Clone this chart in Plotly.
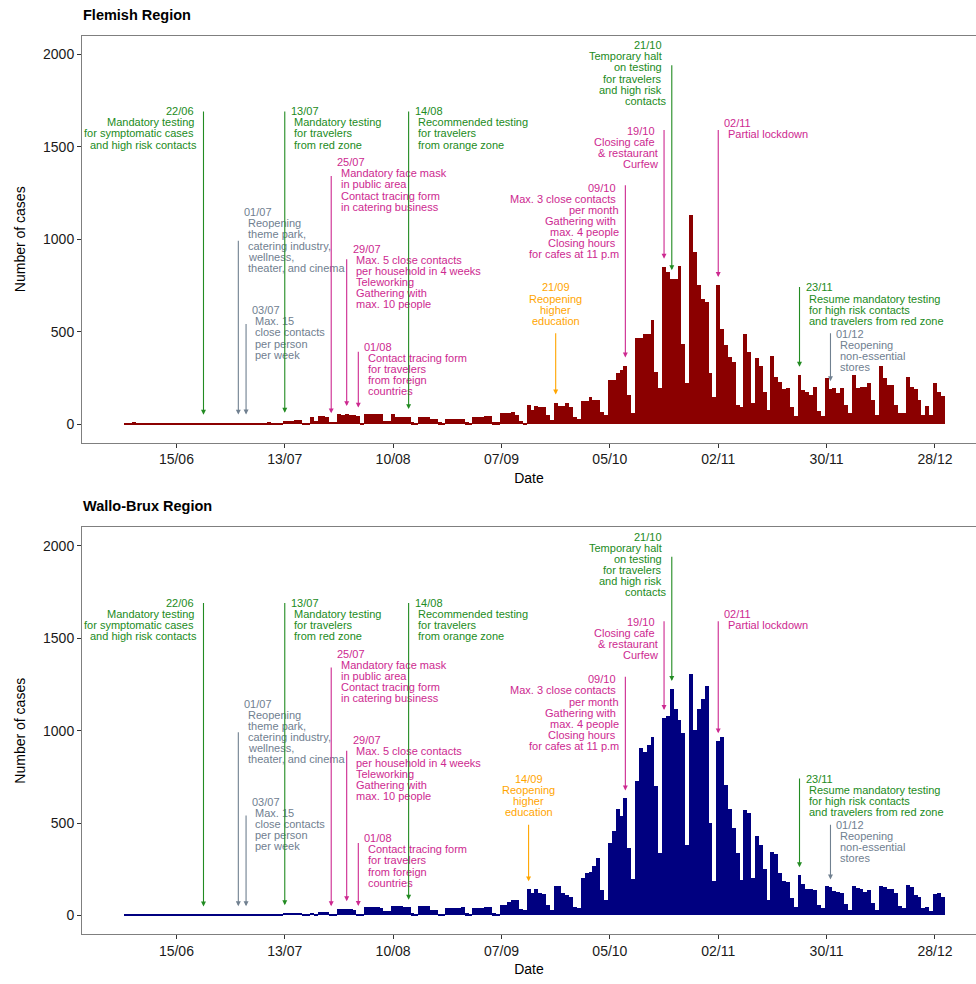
import datetime as dt
import plotly.graph_objects as go

# ---------------- data ----------------
start = dt.date(2020, 6, 2)
flemish_jun = [6, 8, 9, 7, 3, 2, 5, 6, 5, 4, 3, 2, 2, 5, 6, 5, 7, 6, 2, 3, 5, 6, 6, 5, 5, 2, 2, 5, 7]
flemish_jul = [6, 8, 7, 3, 3, 6, 7, 8, 9, 7, 4, 4, 16, 16, 16, 20, 22, 4, 4, 36, 18, 45, 42, 40, 13, 11,
               52, 50, 52, 50, 48]
flemish_aug = [44, 8, 56, 56, 56, 55, 54, 18, 14, 52, 40, 40, 40, 36, 9, 8, 38, 38, 37, 27, 27, 9, 8,
               30, 30, 30, 30, 25, 9, 8, 40]
flemish_sep = [40, 40, 45, 45, 9, 9, 58, 58, 58, 67, 50, 15, 8, 103, 76, 97, 90, 90, 49, 20,
               115, 97, 97, 112, 94, 40, 25, 126, 126, 148]
flemish_oct = [130, 130, 63, 49, 241, 241, 274, 290, 315, 157, 60, 466, 466, 486, 486, 565, 283, 193,
               850, 823, 787, 787, 853, 432, 223, 1134, 931, 751, 679, 661, 277]
flemish_nov = [148, 751, 517, 427, 364, 337, 103, 94, 490, 391, 115, 355, 313, 175, 76, 367, 256, 229,
               187, 193, 90, 43, 265, 184, 175, 157, 198, 72, 43, 247]
flemish_dec = [187, 193, 169, 193, 103, 58, 265, 193, 202, 202, 220, 130, 49, 315, 247, 214, 211, 103,
               61, 61, 252, 198, 187, 130, 49, 97, 49, 220, 175, 151]

wallo_jun = [4, 5, 5, 4, 2, 2, 4, 5, 4, 4, 3, 2, 1, 4, 5, 4, 5, 4, 2, 2, 4, 5, 5, 4, 4, 2, 2, 4, 5]
wallo_jul = [5, 5, 5, 2, 2, 4, 5, 5, 5, 5, 2, 2, 11, 11, 11, 11, 11, 3, 4, 13, 5, 16, 16, 16, 5, 4,
             32, 32, 32, 32, 30]
wallo_aug = [7, 6, 41, 41, 41, 41, 40, 23, 20, 50, 50, 50, 41, 41, 9, 8, 47, 47, 47, 29, 29, 5, 5,
             36, 36, 36, 38, 43, 10, 8, 36]
wallo_sep = [36, 36, 45, 45, 10, 8, 54, 54, 72, 83, 83, 32, 30, 140, 117, 140, 119, 113, 56, 29,
             155, 155, 120, 108, 95, 41, 36, 198, 230, 234]
wallo_oct = [266, 311, 137, 83, 392, 455, 576, 536, 632, 365, 194, 725, 905, 880, 920, 965, 698, 338,
             1067, 1076, 1224, 1116, 1058, 986, 378, 1307, 1001, 1116, 1170, 1242, 497]
wallo_nov = [185, 941, 965, 702, 575, 470, 338, 190, 569, 554, 200, 430, 380, 250, 80, 340, 330, 230,
             185, 180, 90, 45, 216, 167, 140, 140, 137, 55, 40, 155]
wallo_dec = [150, 130, 125, 120, 60, 30, 155, 145, 140, 125, 135, 65, 30, 158, 150, 140, 140, 120,
             50, 40, 162, 150, 110, 95, 40, 41, 20, 113, 117, 95]

flemish = flemish_jun + flemish_jul + flemish_aug + flemish_sep + flemish_oct + flemish_nov + flemish_dec
wallo = wallo_jun + wallo_jul + wallo_aug + wallo_sep + wallo_oct + wallo_nov + wallo_dec
dates = [start + dt.timedelta(days=i) for i in range(len(flemish))]

tick_dates = ["2020-06-15", "2020-07-13", "2020-08-10", "2020-09-07", "2020-10-05",
              "2020-11-02", "2020-11-30", "2020-12-28"]
tick_labels = ["15/06", "13/07", "10/08", "07/09", "05/10", "02/11", "30/11", "28/12"]

GREEN = "#228B22"
GREY = "#708090"
PINK = "#CD2990"
ORANGE = "#FFA500"

# events: (date, colour, align, arrow start y, first text line y, lines)
# trailing / leading spaces in lines mimic the original label spacing
events_common = [
    ("2020-06-22", GREEN, "right", 1700, 1693,
     ["22/06 ", "Mandatory testing ", "for symptomatic cases ", "and high risk contacts"]),
    ("2020-07-01", GREY, "left", 1000, 1146,
     ["01/07", " Reopening", " theme park,", " catering industry,", " wellness,", " theater, and cinema"]),
    ("2020-07-03", GREY, "left", 550, 616,
     ["03/07", " Max. 15", " close contacts", " per person", " per week"]),
    ("2020-07-13", GREEN, "left", 1700, 1693,
     ["13/07", " Mandatory testing", " for travelers", " from red zone"]),
    ("2020-07-25", PINK, "left", 1350, 1417,
     ["25/07", " Mandatory face mask", " in public area", " Contact tracing form", " in catering business"]),
    ("2020-07-29", PINK, "left", 900, 948,
     ["29/07", " Max. 5 close contacts", " per household in 4 weeks", " Teleworking", " Gathering with",
      " max. 10 people"]),
    ("2020-08-01", PINK, "left", 400, 418,
     ["01/08", " Contact tracing form", " for travelers", " from foreign", " countries"]),
    ("2020-08-14", GREEN, "left", 1700, 1693,
     ["14/08", " Recommended testing", " for travelers", " from orange zone"]),
    ("2020-10-09", PINK, "right", 1300, 1278,
     ["09/10 ", "Max. 3 close contacts ", "per month", "Gathering with ", "max. 4 people",
      "Closing hours ", "for cafes at 11 p.m"]),
    ("2020-10-19", PINK, "right", 1600, 1588,
     ["19/10 ", "Closing cafe ", "& restaurant", "Curfew"]),
    ("2020-10-21", GREEN, "right", 1950, 2050,
     ["21/10 ", "Temporary halt ", "on testing ", "for travelers ", "and high risk ", "contacts"]),
    ("2020-11-02", PINK, "left", 1600, 1631,
     ["02/11", " Partial lockdown"]),
    ("2020-11-23", GREEN, "left", 750, 739,
     ["23/11", " Resume mandatory testing", " for high risk contacts", " and travelers from red zone"]),
    ("2020-12-01", GREY, "left", 500, 490,
     ["01/12", " Reopening", " non-essential", " stores"]),
]
education_flemish = ("2020-09-21", ORANGE, "center", 500, 739, ["21/09", "Reopening", "higher", "education"])
education_wallo = ("2020-09-14", ORANGE, "center", 500, 739, ["14/09", "Reopening", "higher", "education"])

panels = [
    ("Flemish Region", flemish, "#8B0000", "x", "y", events_common + [education_flemish]),
    ("Wallo-Brux Region", wallo, "#000080", "x2", "y2", events_common + [education_wallo]),
]

FONT = "Liberation Sans, Arial, Helvetica, sans-serif"
LINE_H = 11.1

fig = go.Figure()
annotations = []
for title, values, colour, xr, yr, events in panels:
    fig.add_trace(go.Bar(x=dates, y=values, marker=dict(color=colour, line=dict(width=0)),
                         width=86400000, xaxis=xr, yaxis=yr, showlegend=False,
                         hoverinfo="x+y"))
    lookup = {d.isoformat(): v for d, v in zip(dates, values)}
    for date, col, align, y_top, y_text, lines in events:
        tip = lookup.get(date, 0) + 45
        annotations.append(dict(x=date, y=tip, ax=date, ay=y_top, xref=xr, yref=yr,
                                axref=xr, ayref=yr, text="", showarrow=True,
                                arrowhead=2, arrowsize=0.9, arrowwidth=1.1, arrowcolor=col))
        for i, ln in enumerate(lines):
            lead = len(ln) - len(ln.lstrip(" "))
            trail = len(ln) - len(ln.rstrip(" "))
            if align == "left":
                xs, anchor = 4 + 3.3 * lead, "left"
            elif align == "right":
                xs, anchor = -4 - 3.3 * trail, "right"
            else:
                xs, anchor = 0, "center"
            annotations.append(dict(x=date, y=y_text, xref=xr, yref=yr, text=ln.strip(),
                                    showarrow=False, xanchor=anchor, yanchor="middle",
                                    xshift=xs, yshift=-i * LINE_H,
                                    font=dict(family=FONT, size=11, color=col)))

annotations.append(dict(x=0, y=1.0, xref="paper", yref="paper", xanchor="left", yanchor="bottom",
                        yshift=11, xshift=-1, text="<b>Flemish Region</b>", showarrow=False,
                        font=dict(family=FONT, size=14.5, color="black")))
annotations.append(dict(x=0, y=0.4527, xref="paper", yref="paper", xanchor="left", yanchor="bottom",
                        yshift=11, xshift=-1, text="<b>Wallo-Brux Region</b>", showarrow=False,
                        font=dict(family=FONT, size=14.5, color="black")))

x_range = ["2020-05-21 14:38", "2021-01-07 14:24"]
xaxis_common = dict(type="date", range=x_range, tickvals=tick_dates, ticktext=tick_labels,
                    showgrid=False, zeroline=False, showline=True, mirror=True, linecolor="#7f7f7f",
                    linewidth=1, ticks="outside", ticklen=4, tickcolor="#333333",
                    tickfont=dict(family=FONT, size=14, color="#1a1a1a"),
                    title=dict(text="Date", font=dict(family=FONT, size=14, color="black"), standoff=6))
yaxis_common = dict(range=[-100, 2100], tickvals=[0, 500, 1000, 1500, 2000],
                    showgrid=False, zeroline=False, showline=True, linecolor="#7f7f7f", linewidth=1,
                    ticks="outside", ticklen=4, tickcolor="#333333",
                    tickfont=dict(family=FONT, size=14, color="#1a1a1a"),
                    title=dict(text="Number of cases", font=dict(family=FONT, size=14, color="black"),
                               standoff=14))

fig.update_layout(
    width=976, height=984,
    margin=dict(l=82, r=0, t=36, b=50),
    paper_bgcolor="white", plot_bgcolor="white",
    bargap=0, barmode="overlay",
    xaxis=dict(domain=[0, 1], anchor="y", **xaxis_common),
    yaxis=dict(domain=[0.5473, 1], anchor="x", **yaxis_common),
    xaxis2=dict(domain=[0, 1], anchor="y2", **xaxis_common),
    yaxis2=dict(domain=[0, 0.4527], anchor="x2", **yaxis_common),
    annotations=annotations,
    font=dict(family=FONT),
)

fig.write_html("out.html")
